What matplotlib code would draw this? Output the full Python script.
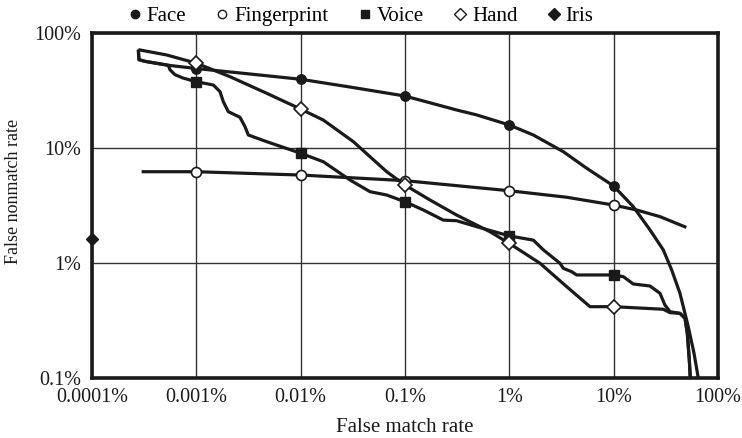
import matplotlib
matplotlib.use("Agg")
import matplotlib.pyplot as plt
from matplotlib.lines import Line2D

# ---- data (percent) ----
x_ticks = [0.0001, 0.001, 0.01, 0.1, 1, 10, 100]
x_tick_labels = ["0.0001%", "0.001%", "0.01%", "0.1%", "1%", "10%", "100%"]
y_ticks = [0.1, 1, 10, 100]
y_tick_labels = ["0.1%", "1%", "10%", "100%"]
marker_x = [0.001, 0.01, 0.1, 1, 10]

face_x = [2.78e-4, 2.82e-4, 3.22e-4, 5.38e-4, 0.001, 3.27e-3, 0.01, 0.0297, 0.1, 0.313, 0.486, 1,
          1.70, 3.29, 5.52, 10, 15.4, 22.3, 29.9, 36.0, 43.2, 51.9, 58.9, 64.7, 65.8]
face_y = [71.6, 58.6, 56.7, 52.4, 49.1, 44.0, 39.6, 33.9, 28.3, 21.4, 19.4, 15.85,
          12.97, 9.29, 6.66, 4.67, 3.09, 1.94, 1.30, 0.869, 0.545, 0.279, 0.164, 0.1, 0.087]
face_marker_y = [49.1, 39.6, 28.3, 15.85, 4.67]

finger_x = [2.99e-4, 0.001, 0.01, 0.1, 1, 3.55, 10, 16.6, 27.8, 49.7]
finger_y = [6.22, 6.22, 5.82, 5.20, 4.25, 3.73, 3.19, 2.89, 2.53, 2.04]
finger_marker_y = [6.22, 5.82, 5.20, 4.25, 3.19]

voice_x = [2.78e-4, 2.82e-4, 3.22e-4, 5.38e-4, 5.59e-4, 6.24e-4, 7.45e-4, 0.001, 1.455e-3,
           1.686e-3, 1.813e-3, 2.025e-3, 2.62e-3, 2.93e-3, 3.15e-3, 4.73e-3, 0.01, 0.01648,
           0.0297, 0.0462, 0.0668, 0.1, 0.150, 0.233, 0.313, 0.486, 1, 1.70, 2.12, 3.06, 3.29, 3.96,
           4.42, 10, 12.4, 15.4, 22.3, 27.8, 31.0, 34.7, 43.2, 48.3, 50.8, 53.1, 54.7]
voice_y = [71.6, 58.6, 56.7, 52.4, 47.9, 43.4, 40.6, 37.7, 35.3,
           30.9, 25.3, 20.7, 18.5, 15.3, 12.97, 11.35, 9.0, 7.60,
           5.27, 4.17, 3.90, 3.41, 2.89, 2.36, 2.33, 2.07, 1.72, 1.58, 1.30, 0.994, 0.899, 0.840,
           0.787, 0.787, 0.760, 0.657, 0.631, 0.545, 0.431, 0.377, 0.365, 0.330, 0.245, 0.1435, 0.087]
voice_marker_y = [37.7, 9.0, 3.41, 1.72, 0.787]

hand_x = [2.78e-4, 5.20e-4, 0.001, 2.10e-3, 4.73e-3, 0.01, 0.01648, 0.0320, 0.0462, 0.0668,
          0.1, 0.1737, 0.313, 0.653, 1, 1.97, 3.55, 5.93, 10, 29.9, 34.7, 43.2, 48.3, 50.8, 53.1, 54.7]
hand_y = [71.6, 64.4, 54.6, 41.7, 29.9, 21.8, 17.5, 11.35, 8.40, 6.22,
          4.76, 3.53, 2.61, 1.87, 1.48, 0.994, 0.622, 0.417, 0.417, 0.396, 0.37, 0.365, 0.330, 0.245, 0.1435, 0.087]
hand_marker_y = [54.6, 21.8, 4.76, 1.48, 0.417]

iris_x = [0.0001]
iris_y = [1.61]

legend_labels = ["Face", "Fingerprint", "Voice", "Hand", "Iris"]

# ---- plot ----
plt.rcParams['font.family'] = ['Liberation Serif', 'DejaVu Serif']
fig = plt.figure(figsize=(7.42, 4.38), dpi=100)
W, H = 742, 438
ax = fig.add_axes([92/W, 1-378/H, (718-92)/W, (378-33)/H])
ax.set_xscale('log')
ax.set_yscale('log')
ax.set_xlim(0.0001, 100)
ax.set_ylim(0.1, 100)

ink = '#1a1a1a'
lw = 2.3
for xs, ys in [(face_x, face_y), (finger_x, finger_y), (voice_x, voice_y), (hand_x, hand_y)]:
    ax.plot(xs, ys, color=ink, lw=lw, zorder=3, solid_joinstyle='round', solid_capstyle='butt')

ax.plot(marker_x, face_marker_y, 'o', ms=6.8, mfc=ink, mec=ink, zorder=4)
ax.plot(marker_x, finger_marker_y, 'o', ms=7.2, mfc='white', mec=ink, mew=1.2, zorder=4)
ax.plot(marker_x, voice_marker_y, 's', ms=6.8, mfc=ink, mec=ink, zorder=4)
ax.plot(marker_x, hand_marker_y, 'D', ms=7.5, mfc='white', mec=ink, mew=1.2, zorder=5)
ax.plot(iris_x, iris_y, 'D', ms=6.5, mfc=ink, mec=ink, zorder=6, clip_on=False)

ax.set_xticks(x_ticks)
ax.set_xticklabels(x_tick_labels)
ax.set_yticks(y_ticks)
ax.set_yticklabels(y_tick_labels)
ax.minorticks_off()
ax.tick_params(length=0, labelsize=14.5, colors=ink)
ax.tick_params(axis='x', pad=7)
ax.tick_params(axis='y', pad=8)
ax.grid(True, which='major', color='#333333', lw=1.0, zorder=1)
for s in ax.spines.values():
    s.set_linewidth(2.6)
    s.set_color(ink)
    s.set_zorder(7)

fig.text(405/W, 1-427/H, "False match rate", fontsize=15, ha='center', va='center', color=ink)
fig.text(14/W, 1-191/H, "False nonmatch rate", fontsize=13, ha='center', va='center',
         rotation=90, color=ink)

handles = [
    Line2D([], [], ls='none', marker='o', ms=6, mfc=ink, mec=ink),
    Line2D([], [], ls='none', marker='o', ms=6, mfc='white', mec=ink, mew=1.0),
    Line2D([], [], ls='none', marker='s', ms=6, mfc=ink, mec=ink),
    Line2D([], [], ls='none', marker='D', ms=6, mfc='white', mec=ink, mew=1.0),
    Line2D([], [], ls='none', marker='D', ms=6, mfc=ink, mec=ink),
]
fig.legend(handles, legend_labels, ncol=5, loc='center', bbox_to_anchor=(361/W, 1-16/H),
           frameon=False, fontsize=15, handlelength=0.6, handletextpad=0.28,
           columnspacing=1.43, borderpad=0, borderaxespad=0)

fig.savefig("out.png", dpi=100)
